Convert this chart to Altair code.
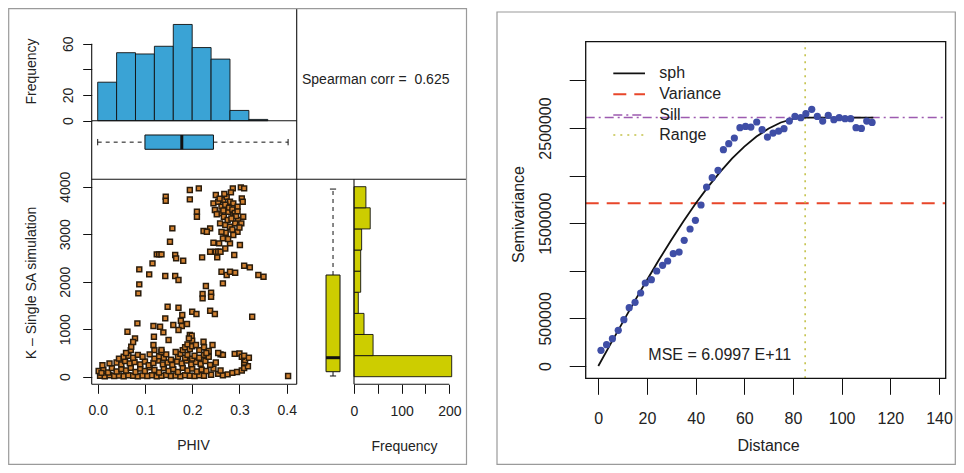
import altair as alt
import pandas as pd

# ------------------------------------------------------------------ data
PHIV_BIN_START = [0.00, 0.04, 0.08, 0.12, 0.16, 0.20, 0.24, 0.28, 0.32]
PHIV_BIN_END = [0.04, 0.08, 0.12, 0.16, 0.20, 0.24, 0.28, 0.32, 0.36]
PHIV_COUNT = [30, 53, 52, 58, 75, 57, 48, 8, 1]
PHIV_BOX_STATS = [0.000, 0.100, 0.178, 0.245, 0.403]  # min, q1, median, q3, max

K_BIN_START = [0, 444, 889, 1333, 1778, 2222, 2667, 3111, 3556]
K_BIN_END = [444, 889, 1333, 1778, 2222, 2667, 3111, 3556, 4000]
K_COUNT = [205, 40, 21, 9, 14, 14, 16, 34, 25]
K_BOX_STATS = [15, 105, 400, 2141, 3950]

SPEARMAN = "0.625"

SCAT_PHIV_HIGH = [0.214, 0.195, 0.195, 0.144, 0.144, 0.286, 0.303, 0.310, 0.250, 0.210,
                  0.210, 0.245, 0.255, 0.266, 0.273, 0.280, 0.287, 0.296, 0.305, 0.307,
                  0.248, 0.259, 0.267, 0.276, 0.287, 0.297, 0.308, 0.259, 0.270, 0.280,
                  0.291, 0.296, 0.287, 0.271, 0.265, 0.257, 0.250, 0.255, 0.260, 0.253,
                  0.245, 0.238, 0.224, 0.231, 0.304, 0.301, 0.280, 0.289, 0.158, 0.153,
                  0.164, 0.166, 0.181, 0.125, 0.130, 0.135, 0.116, 0.088, 0.088, 0.086,
                  0.109, 0.143, 0.164, 0.171, 0.221, 0.238, 0.229, 0.222, 0.222, 0.240,
                  0.240, 0.262, 0.273, 0.280, 0.291, 0.265, 0.310, 0.322, 0.340, 0.351,
                  0.327, 0.238, 0.248, 0.200, 0.209, 0.148, 0.171, 0.179, 0.176, 0.143,
                  0.132, 0.118, 0.139, 0.160, 0.178, 0.189, 0.171, 0.084, 0.063, 0.079,
                  0.071, 0.075, 0.118, 0.119, 0.135, 0.150, 0.195, 0.199, 0.193, 0.224,
                  0.243, 0.208, 0.262, 0.270, 0.278, 0.285, 0.290, 0.293, 0.275, 0.283,
                  0.266, 0.252, 0.300, 0.262, 0.276, 0.270, 0.285, 0.296, 0.268, 0.258,
                  0.282]
SCAT_K_HIGH = [3965, 3930, 3733, 3790, 3705, 3965, 3985, 3965, 3825, 3474,
               3368, 3650, 3684, 3719, 3790, 3684, 3650, 3579, 3754, 3684,
               3509, 3439, 3368, 3474, 3404, 3298, 3368, 3228, 3193, 3158,
               3228, 3053, 2982, 3032, 2912, 2807, 2632, 2632, 2632, 2512,
               2821, 3123, 3067, 3053, 3228, 2772, 2807, 2561, 3123, 2842,
               2561, 2491, 2442, 2575, 2575, 2575, 2386, 2260, 1944, 1754,
               2154, 2119, 2119, 2035, 2512, 2632, 1909, 1740, 1649, 1768,
               1684, 2210, 2140, 2210, 2189, 1965, 2337, 2302, 2140, 2105,
               1263, 1389, 1319, 1368, 1319, 1474, 1453, 1298, 1179, 1228,
               1053, 1067, 933, 1088, 1067, 1109, 982, 1123, 947, 807,
               632, 730, 667, 842, 561, 772, 877, 863, 807, 737,
               667, 667, 3580, 3620, 3560, 3520, 3450, 3380, 3300, 3330,
               3500, 3420, 3140, 3050, 2900, 2700, 3100, 3480, 3850, 3750,
               3880]
SCAT_PHIV_LOW = [0.005, 0.015, 0.025, 0.035, 0.045, 0.055, 0.065, 0.075, 0.085, 0.095,
                 0.105, 0.115, 0.125, 0.135, 0.145, 0.155, 0.165, 0.175, 0.185, 0.195,
                 0.205, 0.215, 0.225, 0.240, 0.255, 0.265, 0.275, 0.285, 0.295, 0.305, 0.403,
                 0.002, 0.012, 0.022, 0.030, 0.040, 0.050, 0.060, 0.070, 0.080, 0.090,
                 0.100, 0.110, 0.120, 0.130, 0.140, 0.150, 0.160, 0.170, 0.180, 0.190,
                 0.200, 0.210, 0.220, 0.230, 0.245, 0.260, 0.310, 0.318,
                 0.010, 0.025, 0.040, 0.050, 0.058, 0.068, 0.078, 0.090, 0.100, 0.108,
                 0.118, 0.128, 0.138, 0.148, 0.158, 0.168, 0.178, 0.188, 0.198, 0.208,
                 0.218, 0.228, 0.238, 0.250, 0.310, 0.312,
                 0.045, 0.055, 0.065, 0.075, 0.085, 0.095, 0.120, 0.130, 0.140, 0.155,
                 0.170, 0.175, 0.185, 0.190, 0.200, 0.205, 0.215, 0.225, 0.235, 0.260,
                 0.265, 0.290, 0.300, 0.305, 0.310, 0.320,
                 0.120, 0.135, 0.165, 0.180, 0.185, 0.190, 0.195, 0.200, 0.215, 0.225,
                 0.235, 0.200, 0.255, 0.070, 0.060, 0.110, 0.145, 0.230, 0.008]
SCAT_K_LOW = [20, 10, 30, 15, 25, 10, 30, 20, 10, 25,
              15, 30, 10, 20, 35, 15, 25, 10, 30, 20,
              15, 30, 20, 40, 60, 30, 50, 80, 100, 130, 15,
              120, 150, 90, 180, 110, 160, 130, 190, 100, 170,
              120, 200, 140, 90, 180, 120, 160, 100, 190, 130,
              170, 110, 150, 120, 170, 130, 180, 220,
              240, 280, 300, 260, 330, 280, 310, 260, 320, 240,
              290, 340, 260, 300, 250, 320, 280, 340, 260, 310,
              270, 330, 250, 300, 300, 350,
              380, 420, 440, 400, 460, 420, 380, 430, 400, 360,
              420, 480, 400, 460, 380, 440, 400, 460, 420, 470,
              460, 480, 490, 420, 440, 400,
              560, 520, 520, 560, 620, 680, 580, 640, 560, 620,
              540, 760, 500, 560, 500, 470, 470, 500, 80]

VG_DIST = [1.1, 3.4, 5.8, 8.2, 10.5, 12.7, 15.1, 17.4, 19.3, 21.8,
           24.0, 26.4, 28.5, 30.8, 33.2, 35.3, 37.7, 39.9, 42.2, 44.5,
           46.8, 49.2, 51.4, 53.6, 55.9, 58.2, 60.5, 62.7, 65.1, 67.3,
           69.5, 71.8, 74.1, 76.3, 78.5, 80.8, 83.2, 85.3, 87.7, 90.0,
           92.2, 94.5, 96.8, 99.0, 101.4, 103.7, 105.9, 108.1, 110.3, 112.5]
VG_SEMIVAR = [164600, 224000, 287000, 375000, 487000, 613000, 669000, 767000, 872000, 907000,
              998000, 1057000, 1103000, 1180000, 1197000, 1320000, 1439000, 1530000, 1691000, 1880000,
              1978000, 2055000, 2272000, 2335000, 2395000, 2503000, 2517000, 2510000, 2563000, 2482000,
              2405000, 2447000, 2468000, 2493000, 2573000, 2622000, 2608000, 2650000, 2696000, 2622000,
              2573000, 2633000, 2587000, 2608000, 2598000, 2598000, 2503000, 2496000, 2573000, 2559000]
SPH_DIST = [0, 5, 10, 15, 20, 25, 30, 35, 40, 45, 50, 55, 60, 65, 70, 75, 80, 85, 113]
SPH_SEMIVAR = [0, 230000, 458500, 683800, 904000, 1118000, 1324000, 1521000, 1706000, 1879000,
               2037000, 2180000, 2304000, 2410000, 2495000, 2558000, 2597000, 2610000, 2610000]
VARIANCE = 1709000
SILL = 2610000
RANGE = 85
MSE_TEXT = "MSE = 6.0997 E+11"
LEGEND_LABELS = ["sph", "Variance", "Sill", "Range"]

# ------------------------------------------------------------------ style / layout
FONT = "Liberation Sans"
TXT = "#222222"
INK = "#111111"
BLUE = "#3AA3D5"
YELLOW = "#CDCD00"
SQ_FILL = "#D08030"
SQ_EDGE = "#2A1C0C"
PT_BLUE = "#3F4EA6"
C_VAR = "#E8462A"
C_SILL = "#9D5BB0"
C_RANGE = "#C4C24A"
FRAME = "#9A9A9A"
FS_L = 14
FS_R = 16

W, H = 948, 457


def LX(v):
    return v - 8.0


LY = LX
RX = LX
RY = LX


def S(dom, rng):
    return alt.Scale(domain=[float(d) for d in dom], range=[float(r) for r in rng],
                     nice=False, zero=False)


# panel scales (reference pixel geometry)
X_PHIV = S([-0.0127, 0.4212], [LX(91.7), LX(296.7)])
Y_HIST = S([0, 92.5], [LY(120.7), LY(2)])
Y_BOXP = S([0, 1], [LY(179.3), LY(120.7)])
Y_K = S([-160, 4155.8], [LY(384.3), LY(179.3)])
X_BOXK = S([0, 1], [LX(296.7), LX(354)])
X_HK = S([0, 237.1], [LX(354), LX(467)])
X_VG = S([-5.18, 142.75], [RX(585.7), RX(945.7)])
Y_VG = S([-129200, 3406500], [RY(378.3), RY(41.7)])
X_D = S([0, 1000], [LX(0), LX(1000)])
Y_D = S([0, 1000], [LY(0), LY(1000)])

BOX_A, BOX_B, BOX_MID, CAP_A, CAP_B = 0.512, 0.756, 0.634, 0.58, 0.688

AXC = dict(domain=False, grid=False, labelOverlap=False, labelFlush=False,
           tickColor=INK, tickWidth=1, labelColor=TXT, titleColor=TXT,
           labelFont=FONT, titleFont=FONT, titleFontWeight="normal")


def pad_left(axis_x, tick, center_x, fs):
    return axis_x - tick - (center_x + 0.568 * fs)


def pad_bottom(axis_y, tick, center_y, fs):
    return (center_y - 0.432 * fs) - (axis_y + tick)


AX_HIST = alt.Axis(orient="left", offset=-LX(91.7), values=[0, 20, 40, 60], tickSize=9,
                   labelAngle=-90, labelAlign="center", labelBaseline="bottom",
                   labelPadding=pad_left(LX(91.7), 9, LX(67.5), FS_L),
                   labelExpr="datum.value == 40 ? '' : datum.label", labelFontSize=FS_L,
                   title="Frequency", titleFontSize=FS_L, titleAngle=-90, titleAlign="center",
                   titleBaseline="middle", titleX=LX(31.7) - LX(91.7), titleY=LY(71), **AXC)
AX_SY = alt.Axis(orient="left", offset=-LX(91.7), values=[0, 1000, 2000, 3000, 4000], tickSize=9,
                 labelAngle=-90, labelAlign="center", labelBaseline="bottom", format="d",
                 labelPadding=pad_left(LX(91.7), 9, LX(65), FS_L), labelFontSize=FS_L,
                 title="K \u2013 Single SA simulation", titleFontSize=FS_L, titleAngle=-90,
                 titleAlign="center", titleBaseline="middle",
                 titleX=LX(31.7) - LX(91.7), titleY=LY(282.5), **AXC)
AX_SX = alt.Axis(orient="bottom", offset=LY(384.3) - H, values=[0, 0.1, 0.2, 0.3, 0.4], format=".1f",
                 tickSize=9, labelPadding=pad_bottom(LY(384.3), 9, LY(410), FS_L),
                 labelFontSize=FS_L, title="PHIV", titleFontSize=FS_L, titleAlign="center",
                 titleBaseline="middle", titleX=LX(193), titleY=LY(445) - LY(384.3), **AXC)
AX_HK = alt.Axis(orient="bottom", offset=LY(384.3) - H, values=[0, 50, 100, 150, 200], format="d",
                 tickSize=9, labelPadding=pad_bottom(LY(384.3), 9, LY(410.7), FS_L),
                 labelExpr="(datum.value == 50 || datum.value == 150) ? '' : datum.label",
                 labelFontSize=FS_L, title="Frequency", titleFontSize=FS_L, titleAlign="center",
                 titleBaseline="middle", titleX=LX(404), titleY=LY(446) - LY(384.3), **AXC)
AX_VX = alt.Axis(orient="bottom", offset=RY(378.3) - H, values=list(range(0, 141, 20)), format="d",
                 tickSize=16, labelPadding=pad_bottom(RY(378.3), 16, RY(417), FS_R),
                 labelFontSize=FS_R, title="Distance", titleFontSize=FS_R, titleAlign="center",
                 titleBaseline="middle", titleX=RX(768), titleY=RY(445) - RY(378.3), **AXC)
AX_VY = alt.Axis(orient="left", offset=-RX(585.7), values=[0, 500000, 1000000, 1500000, 2000000, 2500000, 3000000],
                 format="d", tickSize=16.5, labelAngle=-90, labelAlign="center", labelBaseline="bottom",
                 labelPadding=pad_left(RX(585.7), 16.5, RX(544), FS_R),
                 labelExpr="(datum.value == 1000000 || datum.value == 2000000 || datum.value == 3000000) ? '' : datum.label",
                 labelFontSize=FS_R, title="Semivariance", titleFontSize=FS_R, titleAngle=-90,
                 titleAlign="center", titleBaseline="middle",
                 titleX=RX(518.3) - RX(585.7), titleY=RY(214), **AXC)


def seg(df, xs, ys, **mark):
    return alt.Chart(df).mark_rule(**mark).encode(
        x=alt.X("x:Q", scale=xs, axis=None), x2="x2:Q",
        y=alt.Y("y:Q", scale=ys, axis=None), y2="y2:Q")


def segdf(rows):
    return pd.DataFrame(rows, columns=["x", "y", "x2", "y2"])


def frame_rect(rows, color, sw):
    return alt.Chart(segdf(rows)).mark_rect(fillOpacity=0, stroke=color, strokeWidth=sw).encode(
        x=alt.X("x:Q", scale=X_D, axis=None), x2="x2:Q",
        y=alt.Y("y:Q", scale=Y_D, axis=None), y2="y2:Q")


layers = []

# ---------------- PHIV histogram
hp = pd.DataFrame({"b0": PHIV_BIN_START, "b1": PHIV_BIN_END, "n": PHIV_COUNT,
                   "z": [0] * len(PHIV_COUNT)})
layers.append(alt.Chart(hp).mark_rect(fill=BLUE, stroke=INK, strokeWidth=0.9).encode(
    x=alt.X("b0:Q", scale=X_PHIV, axis=None), x2="b1:Q",
    y=alt.Y("n:Q", scale=Y_HIST, axis=AX_HIST), y2="z:Q"))

# ---------------- PHIV boxplot (horizontal)
p_lo, p_q1, p_med, p_q3, p_hi = PHIV_BOX_STATS
layers.append(seg(segdf([(p_lo, BOX_MID, p_q1, BOX_MID), (p_q3, BOX_MID, p_hi, BOX_MID)]),
                  X_PHIV, Y_BOXP, color=INK, strokeWidth=1, strokeDash=[4, 4]))
layers.append(seg(segdf([(p_lo, CAP_A, p_lo, CAP_B), (p_hi, CAP_A, p_hi, CAP_B)]),
                  X_PHIV, Y_BOXP, color=INK, strokeWidth=1))
layers.append(alt.Chart(segdf([(p_q1, BOX_A, p_q3, BOX_B)])).mark_rect(
    fill=BLUE, stroke=INK, strokeWidth=1).encode(
    x=alt.X("x:Q", scale=X_PHIV, axis=None), x2="x2:Q",
    y=alt.Y("y:Q", scale=Y_BOXP, axis=None), y2="y2:Q"))
layers.append(seg(segdf([(p_med, BOX_A, p_med, BOX_B)]), X_PHIV, Y_BOXP, color=INK, strokeWidth=3))

# ---------------- scatter
sc = pd.DataFrame({"phiv": SCAT_PHIV_LOW + SCAT_PHIV_HIGH, "k": SCAT_K_LOW + SCAT_K_HIGH})
layers.append(alt.Chart(sc).mark_square(size=24, fill=SQ_FILL, stroke=SQ_EDGE, strokeWidth=1.5,
                                        opacity=1).encode(
    x=alt.X("phiv:Q", scale=X_PHIV, axis=AX_SX),
    y=alt.Y("k:Q", scale=Y_K, axis=AX_SY)))

# ---------------- K boxplot (vertical)
k_lo, k_q1, k_med, k_q3, k_hi = K_BOX_STATS
layers.append(seg(segdf([(BOX_MID, k_q3, BOX_MID, k_hi), (BOX_MID, k_lo, BOX_MID, k_q1)]),
                  X_BOXK, Y_K, color=INK, strokeWidth=1, strokeDash=[4, 4]))
layers.append(seg(segdf([(CAP_A, k_lo, CAP_B, k_lo), (CAP_A, k_hi, CAP_B, k_hi)]),
                  X_BOXK, Y_K, color=INK, strokeWidth=1))
layers.append(alt.Chart(segdf([(BOX_A, k_q1, BOX_B, k_q3)])).mark_rect(
    fill=YELLOW, stroke=INK, strokeWidth=1).encode(
    x=alt.X("x:Q", scale=X_BOXK, axis=None), x2="x2:Q",
    y=alt.Y("y:Q", scale=Y_K, axis=None), y2="y2:Q"))
layers.append(seg(segdf([(BOX_A, k_med, BOX_B, k_med)]), X_BOXK, Y_K, color=INK, strokeWidth=3))

# ---------------- K histogram (horizontal)
hk = pd.DataFrame({"b0": K_BIN_START, "b1": K_BIN_END, "n": K_COUNT, "z": [0] * len(K_COUNT)})
layers.append(alt.Chart(hk).mark_rect(fill=YELLOW, stroke=INK, strokeWidth=0.9).encode(
    x=alt.X("n:Q", scale=X_HK, axis=AX_HK), x2="z:Q",
    y=alt.Y("b0:Q", scale=Y_K, axis=None), y2="b1:Q"))

# ---------------- left figure lines (reference pixel frame)
left_lines = segdf([
    (296.7, 8.6, 296.7, 384.3),
    (296.7, 179.3, 466.5, 179.3),
    (354, 179.3, 354, 384.3),
    (91.7, 43.7, 91.7, 120.7),
    (354, 384.3, 449.3, 384.3),
    (91.7, 120.7, 296.7, 120.7),
    (91.7, 120.7, 91.7, 384.3),
    (91.7, 179.3, 296.7, 179.3),
    (91.7, 384.3, 296.7, 384.3),
])
layers.append(seg(left_lines, X_D, Y_D, color=INK, strokeWidth=1.1))
layers.append(alt.Chart(pd.DataFrame({"x": [302], "y": [80]})).mark_text(
    text="Spearman corr = \u00a0" + SPEARMAN, align="left", baseline="middle",
    font=FONT, fontSize=FS_L, color=TXT).encode(
    x=alt.X("x:Q", scale=X_D, axis=None), y=alt.Y("y:Q", scale=Y_D, axis=None)))

# ---------------- variogram
vg_x0, vg_x1 = -5.18, 142.75
vg_y0, vg_y1 = -129200, 3406500
layers.append(seg(segdf([(vg_x0, VARIANCE, vg_x1, VARIANCE)]), X_VG, Y_VG,
                  color=C_VAR, strokeWidth=2, strokeDash=[13, 8]))
layers.append(seg(segdf([(vg_x0, SILL, vg_x1, SILL)]), X_VG, Y_VG,
                  color=C_SILL, strokeWidth=1.6, strokeDash=[9, 4, 2, 4]))
layers.append(seg(segdf([(RANGE, vg_y0, RANGE, vg_y1)]), X_VG, Y_VG,
                  color=C_RANGE, strokeWidth=1.6, strokeDash=[2, 5]))
layers.append(alt.Chart(pd.DataFrame({"d": SPH_DIST, "g": SPH_SEMIVAR})).mark_line(
    color=INK, strokeWidth=1.8).encode(
    x=alt.X("d:Q", scale=X_VG, axis=None), y=alt.Y("g:Q", scale=Y_VG, axis=None)))
layers.append(alt.Chart(pd.DataFrame({"d": VG_DIST, "g": VG_SEMIVAR})).mark_circle(
    size=52, color=PT_BLUE, opacity=1).encode(
    x=alt.X("d:Q", scale=X_VG, axis=AX_VX), y=alt.Y("g:Q", scale=Y_VG, axis=AX_VY)))

# legend (drawn in the reference pixel frame of the right figure)
LEG_ROWS = [73.3, 94.3, 115.0, 135.0]
LEG_STYLE = [(INK, [1, 0], 1.8), (C_VAR, [13, 8], 2), (C_SILL, [9, 4, 2, 4], 1.6), (C_RANGE, [2, 5], 1.6)]
for yy, (col, dash, sw) in zip(LEG_ROWS, LEG_STYLE):
    layers.append(seg(segdf([(613.3, yy, 645, yy)]), X_D, Y_D, color=col, strokeWidth=sw, strokeDash=dash))
layers.append(alt.Chart(pd.DataFrame({"x": [659.3] * 4, "y": LEG_ROWS, "t": LEGEND_LABELS})).mark_text(
    align="left", baseline="middle", font=FONT, fontSize=FS_R, color=TXT).encode(
    x=alt.X("x:Q", scale=X_D, axis=None), y=alt.Y("y:Q", scale=Y_D, axis=None), text="t:N"))
layers.append(alt.Chart(pd.DataFrame({"x": [648.3], "y": [355]})).mark_text(
    text=MSE_TEXT, align="left", baseline="middle", font=FONT, fontSize=FS_R, color=TXT).encode(
    x=alt.X("x:Q", scale=X_D, axis=None), y=alt.Y("y:Q", scale=Y_D, axis=None)))

layers.append(frame_rect([(585.7, 41.7, 945.7, 378.3)], INK, 1.3))

# ---------------- figure frames (clamped to the page)
layers.append(frame_rect([(8.7, 8.7, 466.5, 464.3)], FRAME, 1.2))
layers.append(frame_rect([(497, 12, 955.3, 464.3)], FRAME, 1.2))

chart = alt.layer(*layers).resolve_scale(x="independent", y="independent").properties(
    width=W, height=H, padding=0, background="white",
    autosize=alt.AutoSizeParams(type="none"),
).configure_view(strokeWidth=0)

chart.save("out.html", embed_options={"renderer": "svg", "actions": False})
